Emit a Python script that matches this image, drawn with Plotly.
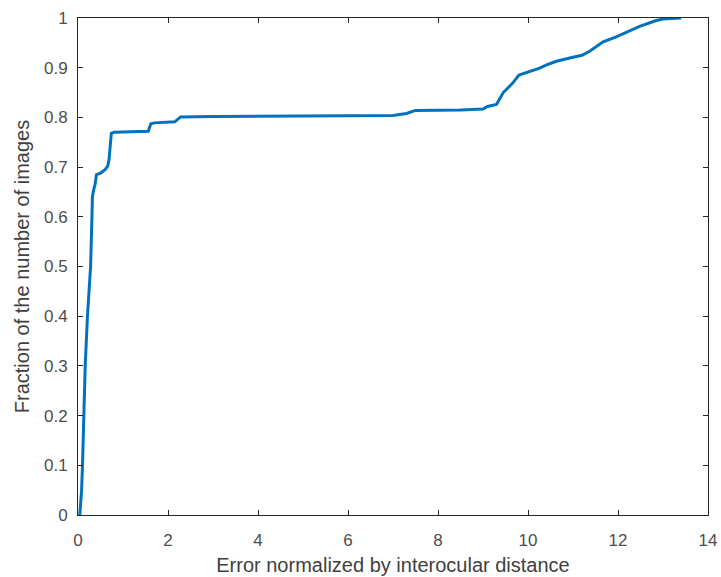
import plotly.graph_objects as go

# Cumulative error distribution (normalized by interocular distance)
err = [0.04, 0.08, 0.10, 0.13, 0.16, 0.21, 0.28, 0.31, 0.32, 0.35, 0.38, 0.41,
       0.50, 0.60, 0.66, 0.69, 0.71, 0.74, 0.80, 1.20, 1.56, 1.62, 1.70, 2.15,
       2.28, 3.00, 5.00, 6.50, 7.00, 7.30, 7.50, 8.50, 9.00, 9.10, 9.30, 9.45,
       9.65, 9.80, 10.00, 10.26, 10.40, 10.63, 11.00, 11.20, 11.37, 11.55,
       11.67, 11.96, 12.19, 12.48, 12.85, 13.00, 13.40]
frac = [0.000, 0.050, 0.100, 0.200, 0.300, 0.400, 0.500, 0.600, 0.640, 0.655,
        0.665, 0.685, 0.688, 0.695, 0.702, 0.715, 0.745, 0.768, 0.770, 0.771,
        0.772, 0.787, 0.789, 0.791, 0.801, 0.802, 0.803, 0.803, 0.804, 0.808,
        0.814, 0.815, 0.817, 0.822, 0.826, 0.850, 0.868, 0.885, 0.891, 0.899,
        0.905, 0.913, 0.921, 0.925, 0.933, 0.945, 0.952, 0.962, 0.972, 0.983,
        0.995, 0.998, 1.000]

x_ticks = [0, 2, 4, 6, 8, 10, 12, 14]
y_ticks = [0, 0.1, 0.2, 0.3, 0.4, 0.5, 0.6, 0.7, 0.8, 0.9, 1]
y_tick_text = ["0", "0.1", "0.2", "0.3", "0.4", "0.5", "0.6", "0.7", "0.8", "0.9", "1"]

FONT = "Liberation Sans, Arial, sans-serif"

fig = go.Figure(go.Scatter(
    x=err, y=frac, mode="lines",
    line=dict(color="#0072BD", width=3),
    showlegend=False,
))

axis_common = dict(
    showgrid=False, zeroline=False, automargin=False,
    showline=True, linecolor="#262626", linewidth=1, mirror="ticks",
    ticks="inside", ticklen=5, tickcolor="#262626",
    tickfont=dict(family=FONT, size=17, color="#4d4d4d"),
)

fig.update_xaxes(
    range=[0, 14], tickvals=x_ticks, ticklabelstandoff=10,
    title=dict(text="Error normalized by interocular distance",
               font=dict(family=FONT, size=20, color="#404040"),
               standoff=8),
    **axis_common,
)
fig.update_yaxes(
    range=[0, 1], tickvals=y_ticks, ticktext=y_tick_text, ticklabelstandoff=6,
    title=dict(text="Fraction of the number of images",
               font=dict(family=FONT, size=20, color="#404040"),
               standoff=8),
    **axis_common,
)

fig.update_layout(
    width=721, height=577,
    margin=dict(l=78, r=13, t=18, b=62),
    paper_bgcolor="white", plot_bgcolor="white",
)

fig.write_html("out.html")
